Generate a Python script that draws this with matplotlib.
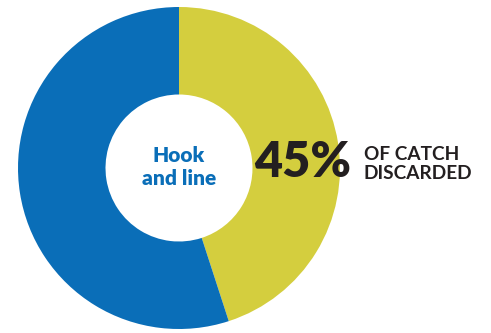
import matplotlib
matplotlib.use("Agg")
import matplotlib.pyplot as plt

# Share of catch by fate for hook-and-line gear
labels = ["Discarded", "Kept"]
shares = [45, 55]
colors = ["#D4CE3E", "#0A6EB8"]
center_label = "Hook\nand line"
headline = "45%"
caption = "OF CATCH\nDISCARDED"

W, H = 491, 333
fig = plt.figure(figsize=(W / 100, H / 100), dpi=100)
ax = fig.add_axes([0, 0, 1, 1])

cx, cy = 179, H - 168
outer_r, inner_r = 161, 73.5
ax.pie(shares, colors=colors, startangle=90, counterclock=False,
       center=(cx, cy), radius=outer_r, frame=True,
       wedgeprops=dict(width=outer_r - inner_r, edgecolor="none", linewidth=0))
ax.set_xlim(0, W)
ax.set_ylim(0, H)
ax.set_aspect("equal")
ax.axis("off")

ax.text(cx, cy + 1, center_label, ha="center", va="center", color="#0A6EB8",
        fontsize=15, fontweight="heavy", family="Lato", linespacing=1.2)
ax.text(254, H - 177, headline, ha="left", va="baseline", color="#231F20",
        fontsize=35, fontweight="heavy", family="Lato")
ax.text(364, H - 164, caption, ha="left", va="center", color="#231F20",
        fontsize=13.7, fontweight="bold", family="Lato", linespacing=1.17)

fig.savefig("out.png", dpi=100)
